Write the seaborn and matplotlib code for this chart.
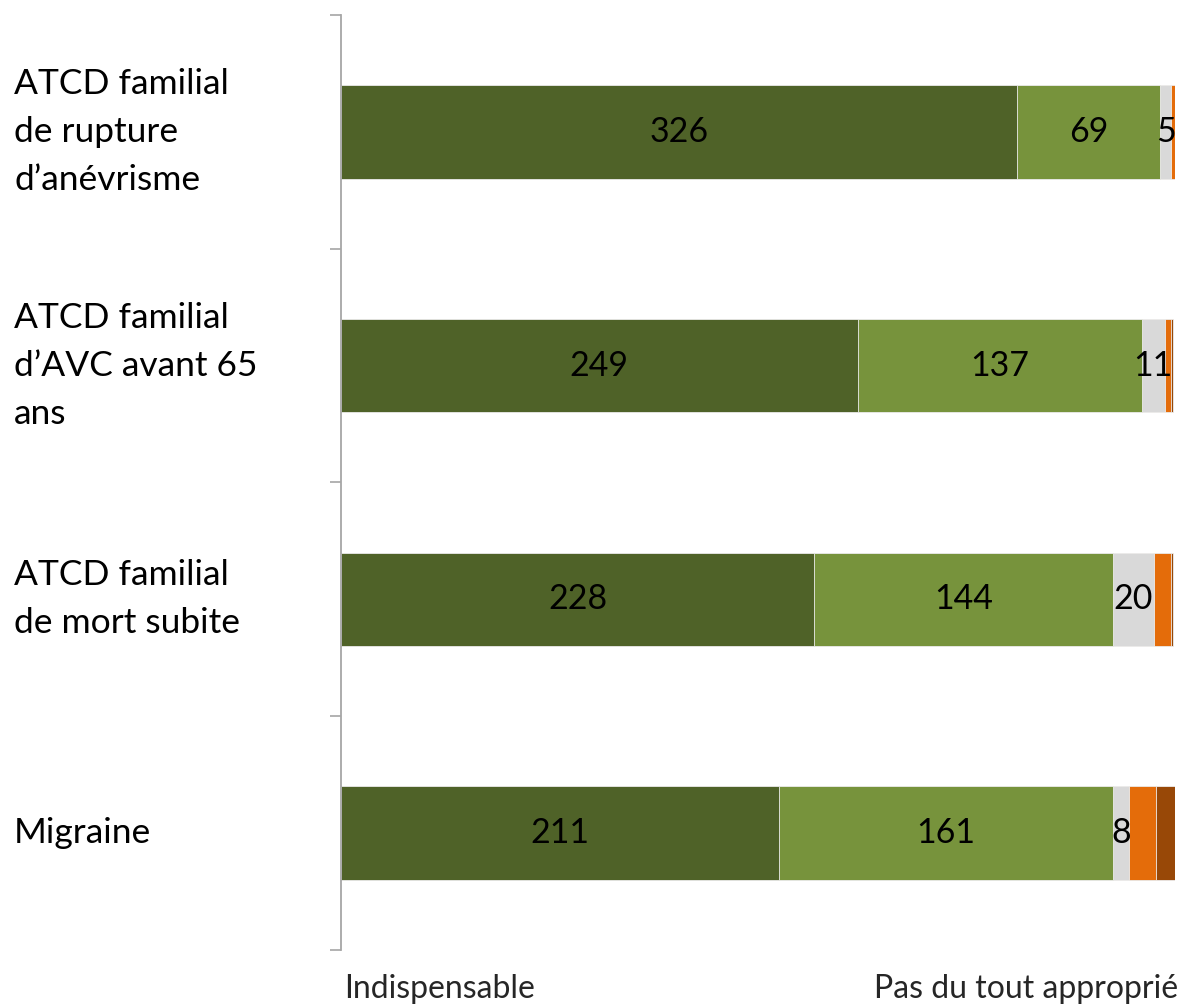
import matplotlib
matplotlib.use("Agg")
import matplotlib.pyplot as plt
import matplotlib.transforms as mtransforms
import seaborn as sns
import numpy as np
import pandas as pd

categories = ["ATCD familial\nde rupture\nd’anévrisme",
              "ATCD familial\nd’AVC avant 65\nans",
              "ATCD familial\nde mort subite",
              "Migraine"]
indispensable = [326, 249, 228, 211]
approprie = [69, 137, 144, 161]
neutre = [5, 11, 20, 8]
peu_approprie = [2, 3, 8, 13]
pas_du_tout = [0, 1, 1, 9]

series_names = ["Indispensable", "Approprié", "Neutre", "Peu approprié", "Pas du tout approprié"]
series_values = [indispensable, approprie, neutre, peu_approprie, pas_du_tout]
series_colors = ["#4F6228", "#77933C", "#D9D9D9", "#E46C0A", "#984807"]
labelled = [True, True, True, False, False]

sns.set_theme(style="white")
plt.rcParams['font.family'] = ['Lato', 'DejaVu Sans']

fig = plt.figure(figsize=(11.84, 10.06), dpi=100)
ax = fig.add_axes([341/1184, 1-950/1006, (1175-341)/1184, (950-15)/1006])

keys = [f"c{i}" for i in range(len(categories))]
vals = np.array(series_values, dtype=float)
cum = np.cumsum(vals, axis=0)

# draw cumulative bars from the largest to the smallest so they overlay
for k in range(len(series_names) - 1, -1, -1):
    df = pd.DataFrame({"cat": keys, "val": cum[k]})
    sns.barplot(data=df, x="val", y="cat", orient="h", color=series_colors[k],
                width=0.4, saturation=1, ax=ax, edgecolor="#EDEDED", linewidth=0.6)

# segment labels
for k in range(len(series_names)):
    if not labelled[k]:
        continue
    for i in range(len(categories)):
        v = vals[k, i]
        left = cum[k, i] - v
        ax.text(left + v / 2, i, f"{int(v)}", ha="center", va="center",
                fontsize=24.5, color="black")

ax.set_xlim(0, 402)
ax.set_ylim(len(categories) - 0.5, -0.5)
ax.set_xlabel("")
ax.set_ylabel("")
ax.set_xticks([])
ax.set_yticks(np.arange(len(categories) + 1) - 0.5)
ax.set_yticklabels([])
ax.tick_params(axis="y", direction="out", length=8, width=1.2, color="#A6A6A6", left=True)
for s in ["top", "right", "bottom"]:
    ax.spines[s].set_visible(False)
ax.spines["left"].set_color("#A6A6A6")
ax.spines["left"].set_linewidth(1.3)

# category labels at left
trans = mtransforms.blended_transform_factory(fig.transFigure, ax.transData)
for i, c in enumerate(categories):
    ax.text(14/1184, i, c, transform=trans, ha="left", va="center",
            fontsize=25.5, color="black", linespacing=1.62)

fig.text(344/1184, 1-998/1006, "Indispensable", ha="left", va="baseline", fontsize=23)
fig.text(1178/1184, 1-998/1006, "Pas du tout approprié", ha="right", va="baseline", fontsize=23)

fig.savefig("out.png", dpi=100)
